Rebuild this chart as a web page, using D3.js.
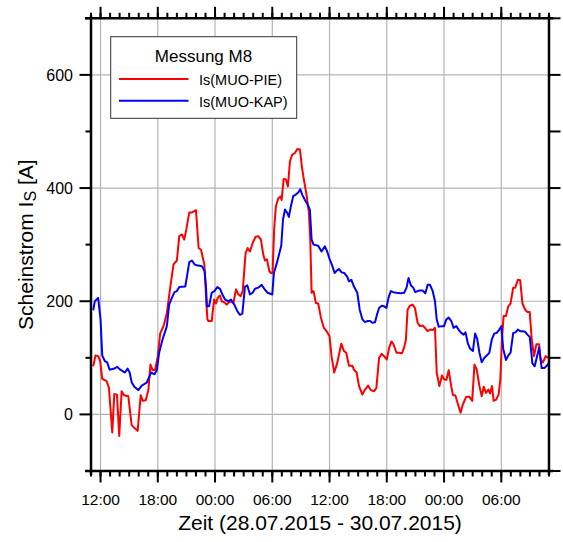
<!DOCTYPE html>
<html><head><meta charset="utf-8">
<script src="https://cdn.jsdelivr.net/npm/d3@7"></script>
<style>body{margin:0;background:#fff}svg{display:block}text{font-family:"Liberation Sans",Arial,sans-serif}</style>
</head><body><svg id="c" width="563" height="542"></svg>
<script>
// hours after 28.07.2015 11:00
const pieHours=[0.23,0.47,0.75,0.96,1.18,1.63,1.88,2.23,2.44,2.72,2.96,3.21,3.46,3.91,4.26,4.61,4.89,5.21,5.42,5.74,6.02,6.23,6.47,6.72,7.0,7.25,7.6,7.95,8.3,8.65,9.0,9.25,9.53,9.77,9.98,10.3,10.58,11.0,11.28,11.53,11.88,12.05,12.2,12.3,12.65,12.9,13.1,13.28,13.52,13.7,13.98,14.22,14.57,14.92,15.2,15.44,15.69,15.9,16.2,16.42,16.66,16.94,17.25,17.53,17.81,18.06,18.23,18.44,18.69,18.86,19.03,19.2,19.38,19.63,19.87,19.98,20.19,20.43,20.64,20.85,21.09,21.37,21.62,21.9,22.1,22.31,22.59,22.84,22.98,23.12,23.32,23.57,23.81,24.1,24.4,24.6,24.8,25.0,25.21,25.49,25.81,26.23,26.51,26.75,27.04,27.39,27.56,27.84,28.09,28.44,28.68,29.04,29.32,29.67,29.91,30.19,30.47,30.72,31.0,31.25,31.49,31.7,32.02,32.3,32.58,32.82,33.0,33.18,33.42,33.7,33.95,34.23,34.47,34.75,35.0,35.28,35.53,35.81,36.05,36.23,36.51,36.79,37.0,37.24,37.49,37.76,37.94,38.18,38.46,38.73,38.98,39.32,39.67,39.95,40.19,40.43,40.71,40.95,41.16,41.4,41.65,41.82,42.03,42.2,42.45,42.72,42.9,43.07,43.24,43.49,43.73,43.97,44.25,44.46,44.74,44.98,45.22,45.5,45.74,45.98,46.19,46.43,46.68,46.96,47.13,47.37,47.65,47.89];
const pieValues=[85,104,103,94,63,59,47,-32,36,35,-38,41,34,32,-19,-25,-29,34,24,25,44,88,78,79,103,143,156,179,224,265,272,315,318,309,326,357,357,361,294,291,265,209,168,165,165,203,196,206,210,200,198,194,200,197,221,212,209,218,285,294,288,303,314,315,309,282,272,274,253,250,250,329,368,382,385,379,416,415,403,447,459,462,469,468,438,415,388,356,309,215,218,197,196,171,153,149,144,138,103,74,91,125,112,109,86,86,79,74,50,35,43,51,43,41,47,100,107,103,97,118,129,124,109,109,108,118,132,185,192,194,188,162,156,157,153,147,150,149,153,74,50,69,62,61,78,49,34,34,18,3,18,31,31,24,88,79,50,32,49,38,44,37,50,24,26,35,62,132,174,174,191,196,224,224,238,237,196,185,181,181,132,103,124,124,97,92,103,100];
const kapHours=[0.23,0.4,0.75,1.0,1.18,1.46,1.7,1.95,2.44,2.75,3.07,3.35,3.56,3.84,4.05,4.26,4.54,4.96,5.32,5.84,6.09,6.3,6.65,6.9,7.14,7.49,7.95,8.19,8.47,8.75,9.0,9.25,9.88,10.09,10.3,10.58,10.86,11.21,11.63,11.91,12.05,12.15,12.37,12.65,12.93,13.24,13.52,13.77,14.05,14.4,14.67,15.02,15.34,15.62,15.86,16.14,16.38,16.66,16.94,17.19,17.53,17.88,18.16,18.51,19.0,19.17,19.45,19.7,19.94,20.12,20.33,20.57,20.74,20.95,21.2,21.44,21.72,21.93,22.14,22.42,22.7,22.94,23.12,23.32,23.81,24.16,24.51,24.75,25.0,25.28,25.53,25.81,25.98,26.26,26.54,26.86,27.04,27.28,27.56,27.91,28.16,28.44,28.72,28.96,29.25,29.49,29.77,29.95,30.19,30.47,30.72,30.96,31.18,31.42,31.67,32.02,32.47,32.82,33.07,33.28,33.53,33.77,33.98,34.23,34.47,34.75,35.04,35.28,35.53,35.81,36.05,36.23,36.44,36.79,37.0,37.24,37.49,37.76,38.0,38.28,38.56,38.8,39.05,39.25,39.5,39.74,40.02,40.26,40.47,40.71,40.95,41.23,41.58,41.75,42.0,42.27,42.52,42.79,43.0,43.2,43.49,43.73,43.97,44.25,44.49,44.74,44.98,45.22,45.5,45.74,45.98,46.26,46.5,46.71,46.96,47.23,47.51,47.72,48.0];
const kapValues=[184,200,206,168,104,94,92,79,81,84,79,76,74,81,74,57,49,43,51,56,66,74,71,78,109,132,156,194,206,216,218,225,226,247,269,272,265,263,262,253,226,191,191,215,218,225,222,212,203,200,203,194,182,176,178,226,228,212,215,222,224,229,222,215,212,250,266,282,298,344,362,356,349,368,386,388,392,398,388,379,371,362,309,300,298,288,297,288,275,263,250,255,257,251,250,243,235,238,226,215,185,168,163,165,165,162,163,175,188,192,191,188,206,218,216,215,214,215,224,241,228,224,216,218,219,219,214,229,229,218,200,168,155,156,156,168,171,165,153,156,149,144,141,145,125,116,112,143,134,109,92,100,106,109,132,143,144,150,156,116,96,104,109,144,145,150,147,147,146,141,137,90,85,100,118,82,82,85,91];
const seriesNames=["Is(MUO-PIE)","Is(MUO-KAP)"];
const seriesColors=["#ff0000","#0000ff"];
const legendTitle="Messung M8";
const yTickValues=[0,200,400,600];
const xTitle="Zeit (28.07.2015 - 30.07.2015)";

const svg=d3.select("#c");
const L=91,R=549,T=18.3,B=471;
const t0=new Date(2015,6,28,11,0,0);
const toDate=h=>new Date(t0.getTime()+h*3600e3);
const x=d3.scaleTime().domain([t0,toDate(48)]).range([L,R]);
const y=d3.scaleLinear().domain([-100,700]).range([B,T]);
const fmt=d3.timeFormat("%H:%M");
const majorX=d3.timeHour.every(6).range(t0,toDate(48.01));
const minorX=d3.timeHour.every(1).range(t0,toDate(48.01));

// grid
const g=svg.append("g");
g.selectAll(".gx").data(majorX).enter().append("line")
 .attr("x1",d=>x(d)).attr("x2",d=>x(d)).attr("y1",T).attr("y2",B)
 .attr("stroke","#b4b4b4").attr("stroke-width",1.2);
g.selectAll(".gy").data(yTickValues).enter().append("line")
 .attr("y1",d=>y(d)).attr("y2",d=>y(d)).attr("x1",L).attr("x2",R)
 .attr("stroke","#b4b4b4").attr("stroke-width",1.2);

// data
svg.append("clipPath").attr("id","clip").append("rect").attr("x",L).attr("y",T).attr("width",R-L).attr("height",B-T);
const line=d3.line().x(d=>x(toDate(d[0]))).y(d=>y(d[1]));
const pie=pieHours.map((h,i)=>[h,pieValues[i]]);
const kap=kapHours.map((h,i)=>[h,kapValues[i]]);
const dg=svg.append("g").attr("clip-path","url(#clip)");
dg.append("path").datum(pie).attr("d",line).attr("fill","none").attr("stroke",seriesColors[0]).attr("stroke-width",2).attr("stroke-linejoin","round");
dg.append("path").datum(kap).attr("d",line).attr("fill","none").attr("stroke",seriesColors[1]).attr("stroke-width",2).attr("stroke-linejoin","round");

// axes
const ax=svg.append("g").attr("stroke","#000");
function axX(yy,dir){
  ax.append("line").attr("x1",L-6).attr("x2",R+4).attr("y1",yy).attr("y2",yy).attr("stroke-width",2.5);
  ax.selectAll(null).data(minorX).enter().append("line")
   .attr("x1",d=>x(d)).attr("x2",d=>x(d)).attr("y1",yy).attr("y2",yy+dir*5.5).attr("stroke-width",2);
  ax.selectAll(null).data(majorX).enter().append("line")
   .attr("x1",d=>x(d)).attr("x2",d=>x(d)).attr("y1",yy).attr("y2",yy+dir*11.5).attr("stroke-width",2);
}
axX(B,1);axX(T,-1);
const yMinor=d3.range(-100,701,100);
function axY(xx,dir,allLong){
  ax.append("line").attr("y1",T-3).attr("y2",B+4).attr("x1",xx).attr("x2",xx).attr("stroke-width",2.5);
  ax.selectAll(null).data(yMinor).enter().append("line")
   .attr("y1",d=>y(d)).attr("y2",d=>y(d)).attr("x1",xx)
   .attr("x2",d=>xx+dir*((allLong||yTickValues.includes(d))?11.5:5.5)).attr("stroke-width",2);
}
axY(L,-1,false);axY(R,1,true);

// tick labels
svg.selectAll(".xl").data(majorX).enter().append("text")
 .attr("x",d=>x(d)).attr("y",505).attr("text-anchor","middle").attr("font-size","15.5px").attr("fill","#000").text(d=>fmt(d));
svg.selectAll(".yl").data(yTickValues).enter().append("text")
 .attr("x",73).attr("y",d=>y(d)+5.7).attr("text-anchor","end").attr("font-size","16px").attr("fill","#000").text(d=>d);

// titles
svg.append("text").attr("x",(L+R)/2).attr("y",530).attr("text-anchor","middle").attr("font-size","21px").text(xTitle);
const yt=svg.append("text").attr("transform",`translate(33,${(T+B)/2}) rotate(-90)`).attr("text-anchor","middle").attr("font-size","21px");
yt.append("tspan").text("Scheinstrom I");
yt.append("tspan").attr("font-size","16px").attr("dy",3).text("S");
yt.append("tspan").attr("dy",-3).text(" [A]");

// legend
const lg=svg.append("g");
lg.append("rect").attr("x",110.7).attr("y",36.7).attr("width",186).attr("height",81.6).attr("fill","#fff").attr("stroke","#333").attr("stroke-width",1);
lg.append("text").attr("x",203.5).attr("y",61.5).attr("text-anchor","middle").attr("font-size","17px").text(legendTitle);
seriesNames.forEach((n,i)=>{
  const yy=79+i*21.7;
  lg.append("line").attr("x1",119).attr("x2",188.5).attr("y1",yy).attr("y2",yy).attr("stroke",seriesColors[i]).attr("stroke-width",2);
  lg.append("text").attr("x",199).attr("y",yy+5.8).attr("font-size","14.5px").text(n);
});
</script></body></html>
